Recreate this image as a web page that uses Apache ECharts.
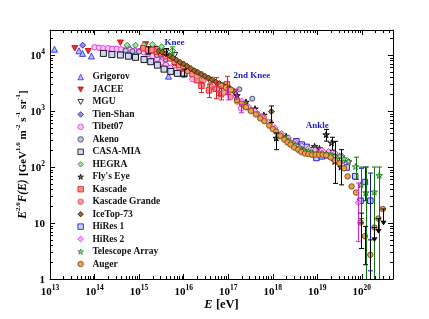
<!DOCTYPE html>
<html><head><meta charset="utf-8">
<script src="https://cdn.jsdelivr.net/npm/echarts@6/dist/echarts.min.js"></script>
<style>html,body{margin:0;padding:0;background:#fff}#c{width:429px;height:319px}</style>
</head><body><div id="c"></div>
<script>
// ---- data: [E (eV), E^2.6 F(E)] ----
const grigorov = [[1.26e13,1.27e4],[4.47e13,1.19e4],[5.37e13,1.07e4],[8.51e13,9.6e3],[5.5e14,1.27e4],[8.3e14,1.15e4],[1.12e15,1.27e4],[4.57e15,4.2e3]];
const jacee = [[3.6e13,1.32e4],[7.2e13,1.17e4],[3.8e14,1.66e4],[1.4e15,1.55e4],[2.2e15,1.3e4]];
const mgu = [[1.6e15,1.2e4],[2.5e15,1.25e4],[4e15,1.15e4],[6.3e15,1.0e4]];
const tienShan = [[5.4e13,1.5e4],[5.8e14,1.35e4],[8e14,1.22e4],[1.2e15,1.15e4],[1.9e15,1.08e4],[3e15,9.6e3]];
const tibet07 = [[1e14,1.38e4],[1.26e14,1.35e4],[1.58e14,1.32e4],[2e14,1.32e4],[2.51e14,1.29e4],[3.16e14,1.29e4],[3.98e14,1.26e4],[5.01e14,1.26e4],[6.31e14,1.23e4],[7.94e14,1.2e4],[1e15,1.17e4],[1.26e15,1.12e4],[1.58e15,1.05e4],[2e15,9.55e3],[2.51e15,8.51e3],[3.16e15,7.41e3],[3.98e15,6.61e3],[5.01e15,5.89e3],[6.31e15,5.37e3],[7.94e15,4.9e3],[1e16,4.47e3],[1.58e16,3.72e3],[2.51e16,3.02e3],[3.98e16,2.63e3],[6.31e16,2.29e3],[1e17,2.14e3],[1.48e17,1.9e3],[1.95e17,1.12e3]];
const akeno = [[5.01e14,1.2e4],[7.08e14,1.17e4],[1e15,1.15e4],[1.58e15,1.12e4],[2.51e15,1.0e4],[3.98e15,8.3e3],[6.31e15,7.1e3],[1e16,5.9e3],[1.86e16,5.0e3],[2.51e16,4.27e3],[3.98e16,3.55e3],[6.31e16,3.02e3],[1e17,2.63e3],[1.78e17,2.45e3],[3.47e17,1.66e3]];
const casaMia = [[1.58e14,1.07e4],[2.45e14,1.02e4],[3.8e14,1.0e4],[5.75e14,9.55e3],[8.3e14,9.1e3],[1.29e15,8.3e3],[1.82e15,7.6e3],[2.57e15,6.6e3],[3.63e15,5.6e3],[5.13e15,5.1e3],[7.24e15,4.7e3],[1.02e16,4.6e3]];
const hegra = [[5.4e14,1.5e4],[8.3e14,1.5e4],[1.29e15,1.5e4],[2e15,1.55e4],[3.2e15,1.41e4],[5.6e15,1.2e4]];
const flysEye = [[1.58e17,1.9e3],[2.51e17,1.45e3],[3.98e17,1.1e3],[6.31e17,850],[1.2e18,330],[2e18,355],[3.16e18,282],[5.01e18,229],[8.7e18,234],[1.12e19,214],[1.58e19,380],[2.09e19,270],[2.45e19,126],[3.39e19,100]];
const kascade = [[1.26e15,1.32e4],[1.58e15,1.26e4],[2e15,1.23e4],[2.51e15,1.15e4],[3.16e15,1.07e4],[3.98e15,9.55e3],[5.01e15,8.71e3],[6.31e15,7.59e3],[7.94e15,6.61e3],[1e16,5.89e3],[1.26e16,5.25e3],[1.58e16,4.57e3],[2e16,3.55e3],[2.51e16,2.82e3],[3.72e16,2.34e3],[5.25e16,2.51e3],[6.92e16,2.0e3],[9.33e16,3.02e3]];
const kascadeGrande = [[2e16,4.17e3],[2.82e16,3.55e3],[3.98e16,2.88e3],[5.62e16,2.51e3],[7.94e16,2.14e3],[1.12e17,1.78e3],[1.58e17,1.48e3],[2.24e17,1.26e3],[3.16e17,1.05e3],[4.47e17,891],[6.31e17,759],[8.91e17,631]];
const iceTop73 = [[2.75e15,1.17e4],[3.31e15,1.12e4],[3.98e15,1.05e4],[4.79e15,9.77e3],[5.75e15,8.91e3],[6.92e15,8.13e3],[8.32e15,7.41e3],[1e16,6.92e3],[1.2e16,6.31e3],[1.45e16,5.75e3],[1.74e16,5.25e3],[2.09e16,4.9e3],[2.51e16,4.57e3],[3.02e16,4.17e3],[3.63e16,3.89e3],[4.37e16,3.63e3],[5.25e16,3.31e3],[6.31e16,3.09e3],[7.59e16,2.88e3],[9.12e16,2.69e3],[1.1e17,2.51e3],[1.32e17,2.29e3],[9.3e17,980]];
const hiRes1 = [[3.39e18,288],[4.47e18,251],[5.75e18,229],[7.59e18,200],[9.55e18,145],[1.26e19,155],[1.66e19,162],[2.19e19,155],[2.88e19,145],[3.63e19,132],[4.57e19,98],[7.08e19,68],[9.33e19,25],[1.17e20,54],[1.55e20,25]];
const hiRes2 = [[2e17,1.51e3],[2.82e17,1.2e3],[3.98e17,1.0e3],[5.62e17,794],[7.94e17,631],[1.12e18,501],[1.58e18,398],[2.24e18,331],[3.16e18,282],[4.47e18,240],[6.31e18,214],[8.91e18,200],[1.26e19,200],[1.78e19,190],[2.51e19,178],[3.55e19,158],[5.01e19,126],[8.32e19,23]];
const telescopeArray = [[1.58e18,355],[2e18,316],[2.51e18,282],[3.16e18,251],[3.98e18,224],[5.01e18,200],[6.31e18,191],[7.94e18,178],[1e19,178],[1.26e19,174],[1.58e19,174],[2e19,166],[2.51e19,158],[3.16e19,158],[3.98e19,141],[5.01e19,126],[7.24e19,102],[9.55e19,48],[1.23e20,35],[1.91e20,36],[2.45e20,71]];
const auger = [[6.92e16,2.82e3],[8.91e16,2.63e3],[1.15e17,2.4e3],[1.58e17,1.58e3],[2e17,1.35e3],[2.51e17,1.17e3],[3.24e17,1e3],[4.17e17,871],[5.25e17,741],[6.46e17,661],[8.32e17,550],[1e18,479],[1.2e18,427],[1.48e18,363],[1.82e18,309],[2.14e18,275],[2.51e18,251],[3.02e18,224],[3.72e18,204],[4.37e18,186],[5.25e18,174],[6.31e18,170],[7.59e18,166],[9.12e18,166],[1.1e19,166],[1.32e19,166],[1.58e19,162],[2e19,148],[2.51e19,132],[3.16e19,117],[3.98e19,95],[4.79e19,68],[5.89e19,45],[7.41e19,35],[9.33e19,10.2],[1.17e20,5.8],[1.55e20,2.7],[1.91e20,8.3],[2.34e20,12],[2.95e20,17.8]];

// ---- error bars: [E, low, high, upperLimitArrow] ----
const mguErr = [[1.6e15,1.05e4,1.4e4,0],[4e15,1.0e4,1.3e4,0]];
const hegraErr = [[5.6e15,1.05e4,1.4e4,0]];
const casaErr = [[1.02e16,4.2e3,5.6e3,0]];
const tibetErr = [[6.31e16,1.9e3,2.7e3,0],[1e17,1.58e3,2.63e3,0],[1.48e17,1.62e3,2.45e3,0],[1.95e17,930,1.32e3,0]];
const kascadeErr = [[2.51e16,2.14e3,3.24e3,0],[3.72e16,1.74e3,3.02e3,0],[5.25e16,1.66e3,3.98e3,0],[6.92e16,1.58e3,2.51e3,0],[9.33e16,2.0e3,4.17e3,0]];
const iceTopErr = [[9.3e17,620,1230,0]];
const flysEyeErr = [[1.2e18,204,407,0],[1.58e19,290,470,0],[2.09e19,200,340,0],[2.45e19,51,288,0],[3.39e19,48,204,0]];
const hiRes1Err = [[9.33e19,10,95,0],[1.17e20,25,100,0],[1.55e20,1.4,78,0]];
const hiRes2Err = [[8.32e19,4.7,52,0]];
const taErr = [[7.24e19,60,150,0],[9.55e19,12,100,0],[1.23e20,0.5,100,0],[1.91e20,0.5,100,0],[2.45e20,0.5,100,0]];
const augerErr = [[9.33e19,3.5,15,0],[1.17e20,1.8,8.7,0],[1.55e20,0.5,5.0,0],[1.91e20,4.7,8.3,1],[2.34e20,6.6,12,1],[2.95e20,9.3,17.8,1]];

// ---- annotations ----
const notes = [[6.2e15,1.65e4,'Knee'],[3.4e17,4.3e3,'2nd Knee'],[1.0e19,550,'Ankle']];

const xMin = 1e13, xMax = 5e20, yMin = 1, yMax = 2.8e4;
const FONT = "'Liberation Serif','DejaVu Serif',serif";
const downTri = 'path://M0,0L10,0L5,9Z';
const star = 'path://M50,0L61,35L98,35L68,57L79,91L50,70L21,91L32,57L2,35L39,35Z';

const defs = [
  {name:'Grigorov', data:grigorov, symbol:'triangle', size:6, fill:'#b8bcf8', stroke:'#3030e0'},
  {name:'JACEE', data:jacee, symbol:downTri, size:6, fill:'#f03030', stroke:'#c01010'},
  {name:'MGU', data:mgu, symbol:downTri, size:6, fill:'#ffffff', stroke:'#000000'},
  {name:'Tien-Shan', data:tienShan, symbol:'diamond', size:6, fill:'#9090f0', stroke:'#2020c0'},
  {name:'Tibet07', data:tibet07, symbol:'circle', size:5.5, fill:'#f8c8f8', stroke:'#e030e0'},
  {name:'Akeno', data:akeno, symbol:'circle', size:5, fill:'#c0c0e0', stroke:'#404060'},
  {name:'CASA-MIA', data:casaMia, symbol:'rect', size:6, fill:'#d0d8f8', stroke:'#000000'},
  {name:'HEGRA', data:hegra, symbol:'diamond', size:6, fill:'#a0e0a0', stroke:'#119911'},
  {name:"Fly's Eye", data:flysEye, symbol:star, size:6.5, fill:'#8b6b3b', stroke:'#000000'},
  {name:'Kascade', data:kascade, symbol:'rect', size:5.5, fill:'#ff8888', stroke:'#e02020'},
  {name:'Kascade Grande', data:kascadeGrande, symbol:'circle', size:5.5, fill:'#f29a9a', stroke:'#e05050'},
  {name:'IceTop-73', data:iceTop73, symbol:'diamond', size:6, fill:'#a0622d', stroke:'#3a2000'},
  {name:'HiRes 1', data:hiRes1, symbol:'rect', size:5.5, fill:'#c8d0ff', stroke:'#1010c0'},
  {name:'HiRes 2', data:hiRes2, symbol:'diamond', size:6, fill:'#f8b0f8', stroke:'#e020e0'},
  {name:'Telescope Array', data:telescopeArray, symbol:star, size:6.5, fill:'#b0e0b0', stroke:'#118811'},
  {name:'Auger', data:auger, symbol:'circle', size:5.5, fill:'#e8a050', stroke:'#7a4a10'}
];
const errDefs = [
  {data:mguErr, color:'#000'}, {data:hegraErr, color:'#119911'}, {data:casaErr, color:'#000'},
  {data:tibetErr, color:'#c020c0'}, {data:kascadeErr, color:'#e02020'}, {data:iceTopErr, color:'#000'},
  {data:flysEyeErr, color:'#000'}, {data:hiRes1Err, color:'#1010c0'}, {data:hiRes2Err, color:'#e020e0'},
  {data:taErr, color:'#117711'}, {data:augerErr, color:'#000'}
];

const supRich = {
  b: {fontFamily:FONT, fontWeight:'bold', fontSize:11, color:'#000', lineHeight:14, verticalAlign:'bottom'},
  s: {fontFamily:FONT, fontWeight:'bold', fontSize:7.5, color:'#000', lineHeight:9, verticalAlign:'top'}
};
function powLabel(v) {
  const n = Math.round(Math.log10(v));
  if (n === 0) return '{b|1}';
  if (n === 1) return '{b|10}';
  return '{b|10}{s|' + n + '}';
}

function errRender(color) {
  return function (params, api) {
    const x = api.value(0), lo = api.value(1), hi = api.value(2), arrow = api.value(3);
    const pHi = api.coord([x, hi]), pLo = api.coord([x, lo]);
    const cx = Math.round(pHi[0]) + 0.5;
    const st = {stroke: color, lineWidth: 1};
    const ch = [{type:'line', shape:{x1:cx, y1:pHi[1], x2:cx, y2:pLo[1]}, style:st}];
    ch.push({type:'line', shape:{x1:cx-2.5, y1:pHi[1], x2:cx+2.5, y2:pHi[1]}, style:st});
    if (arrow) {
      ch.push({type:'polyline', shape:{points:[[cx-2.5, pLo[1]-4],[cx, pLo[1]],[cx+2.5, pLo[1]-4]]}, style:st});
    } else {
      ch.push({type:'line', shape:{x1:cx-2.5, y1:pLo[1], x2:cx+2.5, y2:pLo[1]}, style:st});
    }
    return {type:'group', children: ch};
  };
}

function minorTicks(params, api) {
  const cs = params.coordSys;
  const st = {stroke:'#000', lineWidth:1};
  const ch = [];
  const bottom = cs.y + cs.height, right = cs.x + cs.width;
  for (let d = 13; d <= 20; d++) for (let k = 2; k <= 9; k++) {
    const v = k * Math.pow(10, d);
    if (v >= xMax) continue;
    const px = Math.round(api.coord([v, yMin])[0]) + 0.5;
    ch.push({type:'line', shape:{x1:px, y1:bottom, x2:px, y2:bottom-3}, style:st});
    ch.push({type:'line', shape:{x1:px, y1:cs.y, x2:px, y2:cs.y+3}, style:st});
  }
  for (let d = 0; d <= 4; d++) for (let k = 2; k <= 9; k++) {
    const v = k * Math.pow(10, d);
    if (v >= yMax) continue;
    const py = Math.round(api.coord([xMin, v])[1]) + 0.5;
    ch.push({type:'line', shape:{x1:cs.x, y1:py, x2:cs.x+3, y2:py}, style:st});
    ch.push({type:'line', shape:{x1:right, y1:py, x2:right-3, y2:py}, style:st});
  }
  return {type:'group', children: ch};
}

function noteRender(params, api) {
  const p = api.coord([api.value(0), api.value(1)]);
  const txt = notes[params.dataIndex][2];
  return {type:'text', x:p[0], y:p[1], style:{text:txt, fill:'#1c1cc8', align:'center', verticalAlign:'middle',
    font:"bold 9px 'Liberation Serif','DejaVu Serif',serif"}};
}

const series = [];
defs.forEach(d => series.push({
  type:'scatter', name:d.name, data:d.data, symbol:d.symbol, symbolSize:d.size,
  symbolKeepAspect:true, z:3,
  itemStyle:{color:d.fill, borderColor:d.stroke, borderWidth:0.9, opacity:1},
  emphasis:{disabled:true}
}));
errDefs.forEach(e => series.push({
  type:'custom', data:e.data, renderItem:errRender(e.color), clip:true, z:4, silent:true,
  encode:{x:0, y:[1,2]}
}));
series.push({type:'custom', data:[[1e15, 10]], renderItem:minorTicks, z:5, silent:true, clip:false});
series.push({type:'custom', data:notes.map(n => [n[0], n[1]]), renderItem:noteRender, z:6, silent:true, clip:false});

const axisCommon = {
  type:'log', logBase:10,
  axisLine:{show:true, onZero:false, lineStyle:{color:'#000', width:1}},
  axisTick:{show:true, inside:true, length:5, lineStyle:{color:'#000', width:1}},
  splitLine:{show:false}
};

const chart = echarts.init(document.getElementById('c'), null, {renderer:'canvas'});
chart.setOption({
  animation:false,
  backgroundColor:'#fff',
  grid:{left:50, right:36, top:30, bottom:40, containLabel:false},
  legend:{
    data:defs.map(d => d.name), orient:'vertical', left:72.5, top:67, height:260,
    itemWidth:5.5, itemHeight:5.5, itemGap:2.47, selectedMode:false,
    itemStyle:{borderWidth:0.8},
    textStyle:{fontFamily:FONT, fontWeight:'bold', fontSize:9.5, color:'#111', lineHeight:10, padding:[0,0,0,4]}
  },
  xAxis:[
    Object.assign({}, axisCommon, {
      position:'bottom', min:xMin, max:xMax,
      axisLabel:{formatter:powLabel, rich:supRich, margin:5, showMaxLabel:false, showMinLabel:true},
      name:'{i|E} {b|[eV]}', nameLocation:'middle', nameGap:19, nameMoveOverlap:false,
      nameTextStyle:{rich:{
        i:{fontFamily:FONT, fontWeight:'bold', fontStyle:'italic', fontSize:12.5, color:'#000'},
        b:{fontFamily:FONT, fontWeight:'bold', fontSize:12.5, color:'#000'}}}
    }),
    Object.assign({}, axisCommon, {position:'top', min:xMin, max:xMax, axisLabel:{show:false}})
  ],
  yAxis:[
    Object.assign({}, axisCommon, {
      position:'left', min:yMin, max:yMax,
      axisLabel:{formatter:powLabel, rich:supRich, margin:5, showMaxLabel:false},
      name:'{i|E}{s|2.6}{i|F(E)} {b|[GeV}{s|1.6}{b| m}{s|-2}{b| s}{s|-1}{b| sr}{s|-1}{b|]}',
      nameLocation:'middle', nameRotate:90, nameGap:21, nameMoveOverlap:false,
      nameTextStyle:{rich:{
        i:{fontFamily:FONT, fontWeight:'bold', fontStyle:'italic', fontSize:11.5, color:'#000', lineHeight:14, verticalAlign:'bottom'},
        b:{fontFamily:FONT, fontWeight:'bold', fontSize:11, color:'#000', lineHeight:14, verticalAlign:'bottom'},
        s:{fontFamily:FONT, fontWeight:'bold', fontSize:7, color:'#000', lineHeight:8, verticalAlign:'top'}}}
    }),
    Object.assign({}, axisCommon, {position:'right', min:yMin, max:yMax, axisLabel:{show:false}})
  ],
  series: series
});
</script></body></html>
